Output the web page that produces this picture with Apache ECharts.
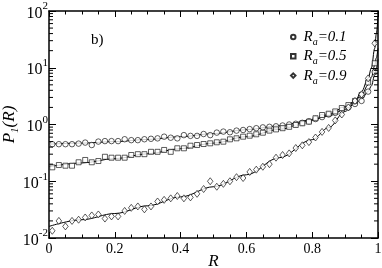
<!DOCTYPE html>
<html><head><meta charset="utf-8">
<script src="https://cdn.jsdelivr.net/npm/echarts@6/dist/echarts.min.js"></script>
<style>html,body{margin:0;padding:0;background:#fff}#c{width:382px;height:268px}</style>
</head><body><div id="c"></div>
<script>
// ---- data ----
const R_points = [0.01,0.03,0.05,0.07,0.09,0.11,0.13,0.15,0.17,0.19,
  0.21,0.23,0.25,0.27,0.29,0.31,0.33,0.35,0.37,0.39,
  0.41,0.43,0.45,0.47,0.49,0.51,0.53,0.55,0.57,0.59,
  0.61,0.63,0.65,0.67,0.69,0.71,0.73,0.75,0.77,0.79,
  0.81,0.83,0.85,0.87,0.89,0.91,0.93,0.95,0.97,0.99];
const ra01 = [0.45,0.45,0.45,0.45,0.46,0.48,0.435,0.50,0.51,0.51,
  0.51,0.55,0.53,0.53,0.55,0.56,0.57,0.61,0.585,0.57,
  0.65,0.63,0.63,0.68,0.65,0.72,0.75,0.73,0.78,0.80,
  0.83,0.86,0.89,0.91,0.93,0.96,1.00,1.03,1.07,1.14,
  1.25,1.35,1.50,1.60,1.80,2.00,2.30,2.60,3.80,8.4];
const ra05 = [0.176,0.193,0.188,0.188,0.216,0.237,0.216,0.227,0.27,0.26,
  0.26,0.26,0.29,0.30,0.30,0.33,0.33,0.356,0.33,0.381,
  0.381,0.423,0.435,0.453,0.466,0.486,0.498,0.548,0.571,0.61,
  0.635,0.672,0.717,0.78,0.82,0.86,0.91,0.98,1.05,1.12,
  1.29,1.47,1.55,1.70,1.95,2.20,2.60,3.30,5.50,12.0];
const ra09 = [0.0134,0.020,0.016,0.020,0.021,0.023,0.025,0.026,0.022,0.024,
  0.024,0.030,0.034,0.036,0.032,0.036,0.044,0.047,0.050,0.055,
  0.050,0.052,0.060,0.073,0.100,0.080,0.090,0.100,0.118,0.114,
  0.146,0.160,0.180,0.200,0.26,0.29,0.31,0.385,0.43,0.49,
  0.59,0.74,0.87,1.18,1.50,2.00,2.60,3.40,6.50,27.0];
const R_curve = [0,0.1,0.2,0.3,0.4,0.5,0.6,0.7,0.8,0.85,0.9,0.93,0.95,0.97,0.98,0.99,0.995,1.0];
const curve01 = [0.45,0.47,0.50,0.545,0.61,0.69,0.81,0.95,1.2,1.42,1.85,2.3,2.8,3.8,4.8,7.5,10,14];
const curve05 = [0.18,0.21,0.25,0.305,0.375,0.47,0.61,0.82,1.2,1.5,2.05,2.6,3.3,5.0,6.8,11,15,22];
const curve09 = [0.016,0.021,0.027,0.037,0.053,0.08,0.13,0.26,0.54,0.88,1.7,2.6,3.8,6.5,10,22,40,80];
const yMinorTicks = [0.02,0.03,0.04,0.05,0.06,0.07,0.08,0.09,
  0.2,0.3,0.4,0.5,0.6,0.7,0.8,0.9,
  2,3,4,5,6,7,8,9,
  20,30,40,50,60,70,80,90];
const seriesNames = ['Ra=0.1','Ra=0.5','Ra=0.9'];
const legendValues = ['0.1','0.5','0.9'];

// ---- chart ----
const FONT = 'Liberation Serif';
const zip = (xs, ys) => xs.map((x, i) => [x, ys[i]]);
const chart = echarts.init(document.getElementById('c'), null, {renderer: 'canvas'});
const axisLine = {show: true, onZero: false, lineStyle: {color: '#000', width: 1.5}};
const xCommon = {
  type: 'value', min: 0, max: 1, interval: 0.2,
  axisLine: axisLine,
  axisTick: {show: true, inside: true, length: 6, lineStyle: {color: '#000', width: 1}},
  minorTick: {show: true, splitNumber: 4, length: 3.5, lineStyle: {color: '#000', width: 1}},
  splitLine: {show: false}, minorSplitLine: {show: false}
};
const yCommon = {
  type: 'log', logBase: 10, min: 0.01, max: 100, splitNumber: 4,
  axisLine: axisLine,
  axisTick: {show: true, inside: true, length: 7, lineStyle: {color: '#000', width: 1}},
  splitLine: {show: false}
};
const markerStyle = {color: '#fff', borderColor: '#000', borderWidth: 0.8};
const symbols = ['circle', 'rect', 'diamond'];
const sizes = [5.5, 5, [5.5, 7]];
const pointSets = [ra01, ra05, ra09];
const curveSets = [curve01, curve05, curve09];

const series = [];
curveSets.forEach((c, i) => {
  series.push({
    name: 'curve' + i, type: 'line', data: zip(R_curve, c), showSymbol: false, symbol: 'none',
    smooth: 0.35, smoothMonotone: 'x', silent: true, z: 2,
    lineStyle: {color: '#000', width: 1}
  });
});
pointSets.forEach((p, i) => {
  series.push({
    name: seriesNames[i], type: 'scatter', data: zip(R_points, p), symbol: symbols[i],
    symbolSize: sizes[i], itemStyle: markerStyle, z: 3
  });
});
series.push({
  name: 'minorY', type: 'custom', coordinateSystem: 'cartesian2d', silent: true, z: 4,
  data: yMinorTicks.map(v => [0, v]),
  encode: {x: 0, y: 1},
  renderItem: (params, api) => {
    const v = api.value(1);
    const p = api.coord([0, v]);
    const q = api.coord([1, v]);
    return {type: 'group', children: [
      {type: 'line', shape: {x1: p[0], y1: p[1], x2: p[0] + 4, y2: p[1]}, style: {stroke: '#000', lineWidth: 1}},
      {type: 'line', shape: {x1: q[0] - 4, y1: q[1], x2: q[0], y2: q[1]}, style: {stroke: '#000', lineWidth: 1}}
    ]};
  }
});

chart.setOption({
  animation: false,
  backgroundColor: '#fff',
  textStyle: {fontFamily: FONT, color: '#000'},
  title: {text: 'b)', left: 91, top: 33, padding: [0, 0, 0, 0], textStyle: {fontFamily: FONT, fontSize: 15, fontWeight: 'normal', color: '#000'}},
  grid: {left: 49, right: 4, top: 11, bottom: 30, containLabel: false, outerBoundsMode: 'none'},
  legend: {
    orient: 'vertical', left: 290, top: 29.5, padding: 0, itemWidth: 4.5, itemHeight: 4.5, itemGap: 1.3,
    data: seriesNames,
    formatter: name => '{r|R}{a|a}{v|=' + legendValues[seriesNames.indexOf(name)] + '}',
    textStyle: {
      fontFamily: FONT, color: '#000',
      rich: {
        r: {fontFamily: FONT, fontStyle: 'italic', fontSize: 15, padding: [0, 0, 0, 3], color: '#000'},
        a: {fontFamily: FONT, fontStyle: 'italic', fontSize: 10, padding: [11, 0, 0, 0], color: '#000'},
        v: {fontFamily: FONT, fontStyle: 'italic', fontSize: 15, color: '#000'}
      }
    }
  },
  xAxis: [
    Object.assign({}, xCommon, {
      position: 'bottom',
      axisLabel: {color: '#000', fontFamily: FONT, fontSize: 14, margin: 4},
      name: 'R', nameLocation: 'middle', nameGap: 15, nameMoveOverlap: false,
      nameTextStyle: {fontFamily: FONT, fontStyle: 'italic', fontSize: 17, color: '#000'}
    }),
    Object.assign({}, xCommon, {position: 'top', axisLabel: {show: false}})
  ],
  yAxis: [
    Object.assign({}, yCommon, {
      position: 'left',
      axisLabel: {
        margin: 1, color: '#000',
        formatter: v => '{b|10}{s|' + Math.round(Math.log10(v)) + '}',
        rich: {
          b: {fontFamily: FONT, fontSize: 16, padding: [5, 0, 0, 0], color: '#000'},
          s: {fontFamily: FONT, fontSize: 11, padding: [0, 0, 9, 0], color: '#000'}
        }
      },
      name: '{p|P}{n|1}{p|(R)}', nameLocation: 'middle', nameGap: 28, nameRotate: 90, nameMoveOverlap: false,
      nameTextStyle: {
        rich: {
          p: {fontFamily: FONT, fontStyle: 'italic', fontSize: 17, color: '#000'},
          n: {fontFamily: FONT, fontStyle: 'italic', fontSize: 11, padding: [12, 0, 0, 0], color: '#000'}
        }
      }
    }),
    Object.assign({}, yCommon, {position: 'right', axisLabel: {show: false}})
  ],
  series: series
});
</script></body></html>
